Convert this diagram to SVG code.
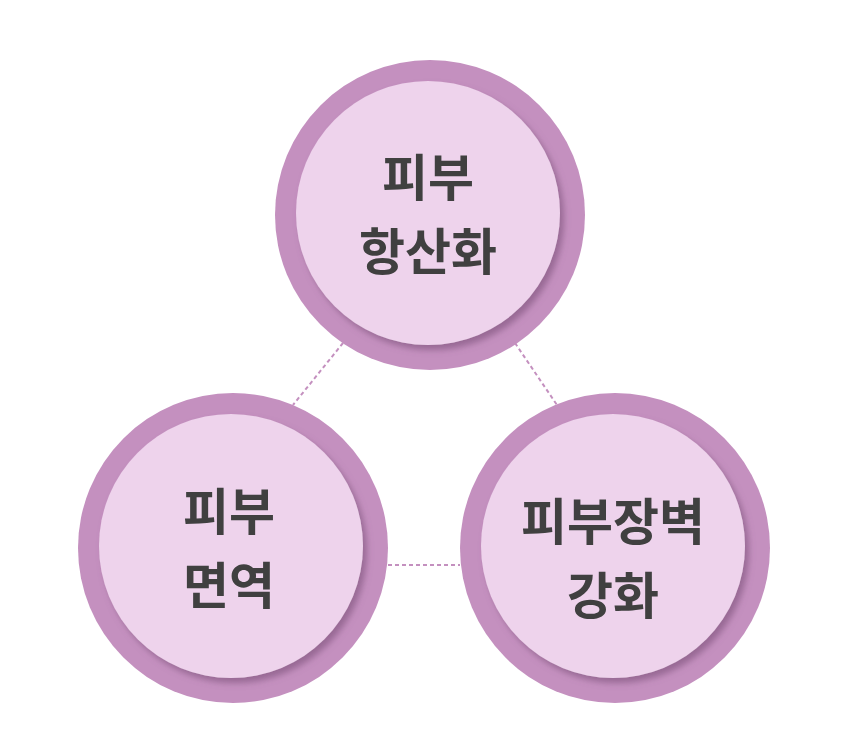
<svg xmlns="http://www.w3.org/2000/svg" width="847" height="744" viewBox="0 0 847 744">
<defs>
<filter id="sh" x="-20%" y="-20%" width="140%" height="140%"><feDropShadow dx="4" dy="5" stdDeviation="3" flood-color="#7a4f78" flood-opacity="0.6"/></filter>
</defs>
<style>
.o{fill:#C490BF}
.i{fill:#EED3EC;filter:url(#sh)}
.t{font-family:"Noto Sans CJK KR",sans-serif;font-weight:bold;font-size:50px;fill:#404040;text-anchor:middle}
.c{stroke:#C490BF;stroke-width:2;stroke-dasharray:4,3;fill:none}
</style>
<rect width="847" height="744" fill="#fff"/>
<g id="connectors">
<line class="c" x1="343" y1="343" x2="293" y2="405"/>
<line class="c" x1="515" y1="343" x2="557" y2="405"/>
<line class="c" x1="388" y1="565" x2="460" y2="565"/>
</g>
<g id="top"><circle class="o" cx="430" cy="215" r="155"/><circle class="i" cx="428" cy="213" r="132"/>
<text class="t" x="428" y="196">피부</text><text class="t" x="428" y="270">항산화</text></g>
<g id="left"><circle class="o" cx="233" cy="548" r="155"/><circle class="i" cx="231" cy="546" r="132"/>
<text class="t" x="229" y="530">피부</text><text class="t" x="229" y="604">면역</text></g>
<g id="right"><circle class="o" cx="615" cy="548" r="155"/><circle class="i" cx="613" cy="546" r="132"/>
<text class="t" x="613" y="540">피부장벽</text><text class="t" x="613" y="614">강화</text></g>
</svg>
